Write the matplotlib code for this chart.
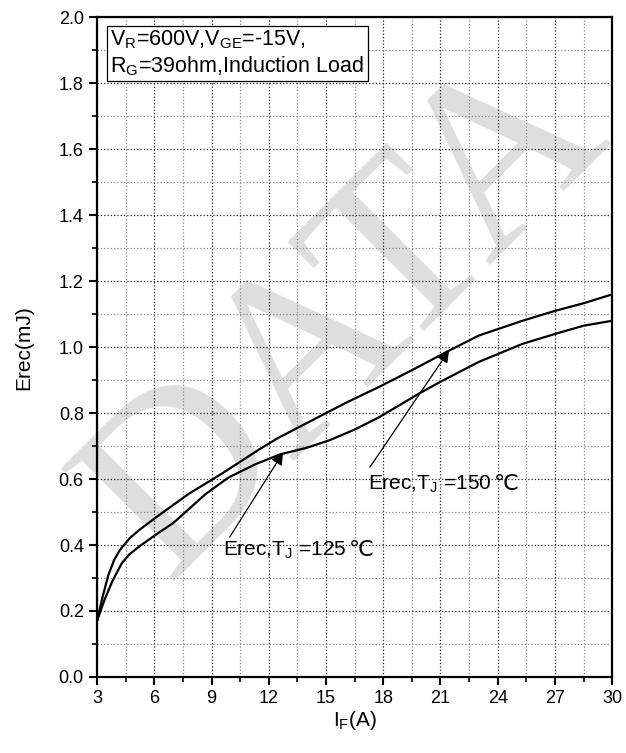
import matplotlib
matplotlib.use("Agg")
import matplotlib.pyplot as plt
from matplotlib.ticker import MultipleLocator

plt.rcParams['font.family'] = ['Liberation Sans', 'DejaVu Sans']
plt.rcParams['mathtext.fontset'] = 'custom'
plt.rcParams['mathtext.rm'] = 'Liberation Sans'
plt.rcParams['mathtext.default'] = 'regular'

# Erec vs IF
if_150 = [3, 3.3, 3.6, 3.9, 4.2, 4.7, 5.2, 6, 7.8, 9.5, 11.5, 12.5, 14, 16, 17.8, 19.5, 21.3, 23, 25.3, 27, 28.5, 30]
erec_150 = [0.17, 0.245, 0.31, 0.355, 0.385, 0.42, 0.445, 0.48, 0.555, 0.615, 0.69, 0.725, 0.77, 0.83, 0.88, 0.93, 0.985, 1.035, 1.08, 1.11, 1.133, 1.16]

if_125 = [3, 3.4, 3.8, 4.3, 4.7, 5.2, 6, 7, 8.7, 9.9, 11.3, 12.6, 14, 15.2, 16.5, 17.8, 19.9, 21, 23, 25.3, 27, 28.5, 30]
erec_125 = [0.17, 0.235, 0.29, 0.345, 0.372, 0.395, 0.428, 0.467, 0.555, 0.605, 0.645, 0.675, 0.695, 0.718, 0.75, 0.788, 0.86, 0.895, 0.955, 1.01, 1.04, 1.065, 1.08]

x_ticks = [3, 6, 9, 12, 15, 18, 21, 24, 27, 30]
y_ticks = [0.0, 0.2, 0.4, 0.6, 0.8, 1.0, 1.2, 1.4, 1.6, 1.8, 2.0]

# annotation: label, text pos, arrow tail, arrow tip
labels = ['Erec,T$_J$ =150', 'Erec,T$_J$ =125']
text_pos = [(17.2, 0.585), (9.6, 0.385)]
arrow_tail = [(17.3, 0.636), (9.95, 0.424)]
arrow_tip = [(21.45, 0.99), (12.75, 0.68)]

fig = plt.figure(figsize=(6.26, 7.53), dpi=100)
ax = fig.add_axes([0.155, 0.101, 0.823, 0.876])
ax.patch.set_alpha(0)

# watermark behind everything
fig.text(0.556, 0.578, 'DATA', rotation=45, fontsize=175, color='#dedede',
         family='Liberation Serif', ha='center', va='center', zorder=-1)

ax.plot(if_150, erec_150, color='black', lw=1.6, zorder=3)
ax.plot(if_125, erec_125, color='black', lw=1.6, zorder=3)

ax.set_xlim(3, 30)
ax.set_ylim(0, 2.0)
ax.set_xticks(x_ticks)
ax.set_yticks(y_ticks)
ax.set_yticklabels(['%.1f' % v for v in y_ticks])
ax.xaxis.set_minor_locator(MultipleLocator(1.5))
ax.yaxis.set_minor_locator(MultipleLocator(0.1))
ax.tick_params(which='major', direction='out', length=6, width=1.5, labelsize=13)
ax.tick_params(which='minor', direction='out', length=3.5, width=1.2)
ax.grid(which='major', linestyle=':', color='#222222', lw=0.9)
ax.grid(which='minor', linestyle=':', color='#888888', lw=0.9)
for s in ax.spines.values():
    s.set_linewidth(1.6)

ax.set_xlabel('I$_F$(A)', fontsize=15, labelpad=1)
ax.set_ylabel('Erec(mJ)', fontsize=15, labelpad=18)

ax.text(3.7, 1.965, 'V$_R$=600V,V$_{GE}$=-15V,\nR$_G$=39ohm,Induction Load',
        fontsize=15.5, va='top', ha='left', linespacing=1.15,
        bbox=dict(boxstyle='square,pad=0.15', fc='white', ec='black', lw=0.9), zorder=5)

for lab, tp, tail, tip in zip(labels, text_pos, arrow_tail, arrow_tip):
    t = ax.text(tp[0], tp[1], lab, fontsize=15, va='center', ha='left', zorder=4)
    ax.annotate('\u2103', xy=(1, 0.05), xycoords=t, xytext=(2, 0), textcoords='offset points',
                fontsize=16, family='DejaVu Sans', va='bottom', ha='left')
    ax.annotate('', xy=tip, xytext=tail,
                arrowprops=dict(arrowstyle='-|>', color='black', lw=0.9,
                                shrinkA=0, shrinkB=0, mutation_scale=18), zorder=4)

fig.savefig('out.png', dpi=100)
